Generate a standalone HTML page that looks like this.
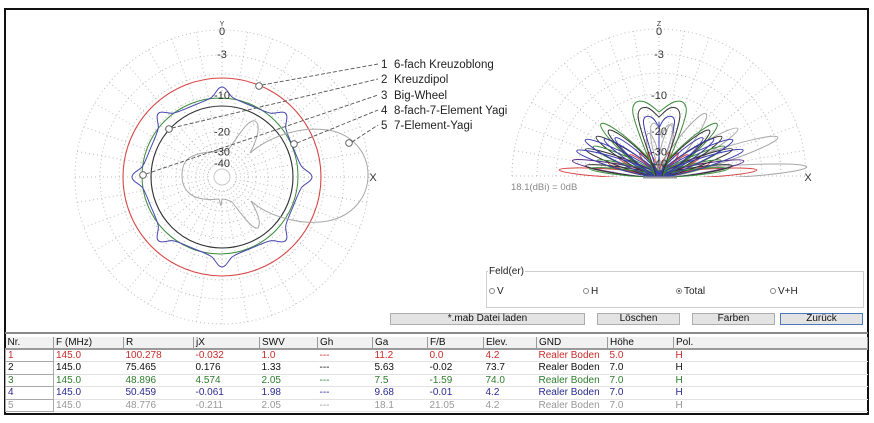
<!DOCTYPE html>
<html><head><meta charset="utf-8">
<style>
*{margin:0;padding:0;box-sizing:border-box}
body{width:874px;height:423px;background:#fff;position:relative;overflow:hidden;font-family:"Liberation Sans",Arial,sans-serif}
.frame{position:absolute;left:4px;top:8px;width:865px;height:407px;border:2px solid #111}
svg{position:absolute;left:0;top:0}
.grp{position:absolute;left:486px;top:271px;width:378px;height:37px;border:1px solid #cfcfcf}
.lg{position:absolute;left:488px;top:266px;font-size:10px;background:#fff;padding:0 1px;color:#222;line-height:11px}
.rad{position:absolute;top:287px;font-size:10px;line-height:10px;color:#222;white-space:nowrap}
.rad i{display:inline-block;width:6px;height:6px;border:1px solid #888;border-radius:50%;margin-right:2px;position:relative;top:0px}
.rad i.on:after{content:"";position:absolute;left:1px;top:1px;width:2px;height:2px;background:#333;border-radius:50%}
.btn{position:absolute;top:313px;height:12px;background:#e3e3e3;border:1px solid #adadad;font-size:10px;line-height:10px;text-align:center;color:#111}
.hl{position:absolute;left:5px;width:863px;height:2px;background:#8a8a8a}
table{position:absolute;left:5px;top:337px;border-collapse:collapse;table-layout:fixed;width:862px;font-size:10px}
td{height:12.5px;line-height:11px;padding:0 0 0 2px;white-space:nowrap;overflow:hidden;border-bottom:1px solid #e2e2e2}
tr.h td{height:12px;background:#f1f1f1;border-right:1px solid #9a9a9a;border-bottom:2px solid #9a9a9a;color:#111}
td.n{border:1px solid #a8a8a8}
tr.r1 td{color:#cc2a2a}
tr.r2 td{color:#111}
tr.r3 td{color:#2e7d2e}
tr.r4 td{color:#2a2a90}
tr.r5 td{color:#999}
</style></head><body>
<div class="frame"></div>
<svg width="874" height="423" viewBox="0 0 874 423" font-family="Liberation Sans, Arial, sans-serif">
<defs><clipPath id="up"><rect x="500" y="0" width="330" height="177"/></clipPath></defs>
<!-- LEFT GRID -->
<g transform="translate(222,177)" fill="none" stroke="#bdbdbd" stroke-dasharray="1 3">
<circle r="147"/><circle r="122"/><circle r="103"/><circle r="82"/><circle r="61"/><circle r="46"/><circle r="34"/><circle r="26"/><circle r="14"/>
<g>
<line x1="14" x2="147"/><line x1="14" x2="147" transform="rotate(10)"/><line x1="14" x2="147" transform="rotate(20)"/><line x1="14" x2="147" transform="rotate(30)"/><line x1="14" x2="147" transform="rotate(40)"/><line x1="14" x2="147" transform="rotate(50)"/><line x1="14" x2="147" transform="rotate(60)"/><line x1="14" x2="147" transform="rotate(70)"/><line x1="14" x2="147" transform="rotate(80)"/><line x1="14" x2="147" transform="rotate(90)"/><line x1="14" x2="147" transform="rotate(100)"/><line x1="14" x2="147" transform="rotate(110)"/><line x1="14" x2="147" transform="rotate(120)"/><line x1="14" x2="147" transform="rotate(130)"/><line x1="14" x2="147" transform="rotate(140)"/><line x1="14" x2="147" transform="rotate(150)"/><line x1="14" x2="147" transform="rotate(160)"/><line x1="14" x2="147" transform="rotate(170)"/><line x1="14" x2="147" transform="rotate(180)"/><line x1="14" x2="147" transform="rotate(190)"/><line x1="14" x2="147" transform="rotate(200)"/><line x1="14" x2="147" transform="rotate(210)"/><line x1="14" x2="147" transform="rotate(220)"/><line x1="14" x2="147" transform="rotate(230)"/><line x1="14" x2="147" transform="rotate(240)"/><line x1="14" x2="147" transform="rotate(250)"/><line x1="14" x2="147" transform="rotate(260)"/><line x1="14" x2="147" transform="rotate(270)"/><line x1="14" x2="147" transform="rotate(280)"/><line x1="14" x2="147" transform="rotate(290)"/><line x1="14" x2="147" transform="rotate(300)"/><line x1="14" x2="147" transform="rotate(310)"/><line x1="14" x2="147" transform="rotate(320)"/><line x1="14" x2="147" transform="rotate(330)"/><line x1="14" x2="147" transform="rotate(340)"/><line x1="14" x2="147" transform="rotate(350)"/>
</g>
</g>
<circle cx="222" cy="177" r="8" fill="none" stroke="#c8c8c8"/>
<!-- LEFT SERIES -->
<circle cx="222" cy="177" r="99" fill="none" stroke="#d94545" stroke-width="1.1"/>
<circle cx="220" cy="176" r="78" fill="none" stroke="#3a8a3a" stroke-width="1"/>
<circle cx="222" cy="177" r="71" fill="none" stroke="#303030" stroke-width="1.1"/>
<g transform="translate(222,177)" fill="none" stroke="#4848b0" stroke-width="1">
<path d="M-29.47,-71.14 C-20,-75 -14,-77 -10,-80 C-6,-84 -4,-90 0,-90 C4,-90 6,-84 10,-80 C14,-77 20,-75 29.47,-71.14"/>
<path d="M-29.47,-71.14 C-20,-75 -14,-77 -10,-80 C-6,-84 -4,-90 0,-90 C4,-90 6,-84 10,-80 C14,-77 20,-75 29.47,-71.14" transform="rotate(45)"/>
<path d="M-29.47,-71.14 C-20,-75 -14,-77 -10,-80 C-6,-84 -4,-90 0,-90 C4,-90 6,-84 10,-80 C14,-77 20,-75 29.47,-71.14" transform="rotate(90)"/>
<path d="M-29.47,-71.14 C-20,-75 -14,-77 -10,-80 C-6,-84 -4,-90 0,-90 C4,-90 6,-84 10,-80 C14,-77 20,-75 29.47,-71.14" transform="rotate(135)"/>
<path d="M-29.47,-71.14 C-20,-75 -14,-77 -10,-80 C-6,-84 -4,-90 0,-90 C4,-90 6,-84 10,-80 C14,-77 20,-75 29.47,-71.14" transform="rotate(180)"/>
<path d="M-29.47,-71.14 C-20,-75 -14,-77 -10,-80 C-6,-84 -4,-90 0,-90 C4,-90 6,-84 10,-80 C14,-77 20,-75 29.47,-71.14" transform="rotate(225)"/>
<path d="M-29.47,-71.14 C-20,-75 -14,-77 -10,-80 C-6,-84 -4,-90 0,-90 C4,-90 6,-84 10,-80 C14,-77 20,-75 29.47,-71.14" transform="rotate(270)"/>
<path d="M-29.47,-71.14 C-20,-75 -14,-77 -10,-80 C-6,-84 -4,-90 0,-90 C4,-90 6,-84 10,-80 C14,-77 20,-75 29.47,-71.14" transform="rotate(315)"/>
</g>
<path fill="none" stroke="#a8a8a8" stroke-width="1" d="M250,153 C270,136 300,126 328,130 C352,134 368,152 368,175 C368,198 352,216 328,221 C300,226 268,216 251,201 C256,210 262,222 258,228 C252,230 240,212 232,202 C228,200 224,199 222,199 L221,206 L219,199 C210,200 195,200 188,192 C180,184 180,166 188,159 C196,152 212,152 228,150 C236,140 248,118 255,121 C262,125 256,142 250,153 Z"/>
<!-- markers & leaders -->
<g fill="none" stroke="#555" stroke-width="0.9" stroke-dasharray="4 2">
<line x1="262" y1="85" x2="378" y2="64"/>
<line x1="172" y1="128" x2="378" y2="79"/>
<line x1="146" y1="174" x2="378" y2="95"/>
<line x1="297" y1="143" x2="378" y2="110"/>
<line x1="352" y1="142" x2="378" y2="125"/>
</g>
<g fill="#fff" stroke="#555" stroke-width="0.9">
<circle cx="259" cy="86" r="3.3"/><circle cx="169" cy="129" r="3.3"/><circle cx="143" cy="175" r="3.3"/><circle cx="294" cy="144" r="3.3"/><circle cx="349" cy="143" r="3.3"/>
</g>
<g font-size="11.5" fill="#222">
<text x="381" y="68">1</text><text x="394" y="68">6-fach Kreuzoblong</text>
<text x="381" y="83">2</text><text x="394" y="83">Kreuzdipol</text>
<text x="381" y="99">3</text><text x="394" y="99">Big-Wheel</text>
<text x="381" y="114">4</text><text x="394" y="114">8-fach-7-Element Yagi</text>
<text x="381" y="129">5</text><text x="394" y="129">7-Element-Yagi</text>
</g>
<g font-size="11" fill="#333" text-anchor="middle">
<text x="222" y="26" font-size="7">Y</text>
<text x="222" y="35">0</text>
<text x="222" y="58">-3</text>
<text x="222" y="99">-10</text>
<text x="222" y="135.5">-20</text>
<text x="222" y="155.5">-30</text>
<text x="222" y="167">-40</text>
<text x="373" y="181">X</text>
</g>
<!-- RIGHT GRID -->
<g transform="translate(659,176)" fill="none" stroke="#bdbdbd" stroke-dasharray="1 3">
<path d="M-147 0A147 147 0 0 1 147 0"/><path d="M-122 0A122 122 0 0 1 122 0"/><path d="M-103 0A103 103 0 0 1 103 0"/><path d="M-82 0A82 82 0 0 1 82 0"/><path d="M-61 0A61 61 0 0 1 61 0"/><path d="M-46 0A46 46 0 0 1 46 0"/><path d="M-34 0A34 34 0 0 1 34 0"/><path d="M-26 0A26 26 0 0 1 26 0"/><path d="M-14 0A14 14 0 0 1 14 0"/>
<line x1="-147" x2="147"/>
<line x1="14" x2="147" transform="rotate(-10)"/><line x1="14" x2="147" transform="rotate(-20)"/><line x1="14" x2="147" transform="rotate(-30)"/><line x1="14" x2="147" transform="rotate(-40)"/><line x1="14" x2="147" transform="rotate(-50)"/><line x1="14" x2="147" transform="rotate(-60)"/><line x1="14" x2="147" transform="rotate(-70)"/><line x1="14" x2="147" transform="rotate(-80)"/><line x1="14" x2="147" transform="rotate(-90)"/><line x1="14" x2="147" transform="rotate(-100)"/><line x1="14" x2="147" transform="rotate(-110)"/><line x1="14" x2="147" transform="rotate(-120)"/><line x1="14" x2="147" transform="rotate(-130)"/><line x1="14" x2="147" transform="rotate(-140)"/><line x1="14" x2="147" transform="rotate(-150)"/><line x1="14" x2="147" transform="rotate(-160)"/><line x1="14" x2="147" transform="rotate(-170)"/>
</g>
<!-- RIGHT LOBES -->
<g clip-path="url(#up)">
<g transform="translate(659,176) scale(1,-1)" fill="none" stroke-width="1">
<g stroke="#a8a8a8">
<ellipse cx="74" rx="74" ry="6" transform="rotate(3.5)"/>
<ellipse cx="62.5" rx="62.5" ry="7" transform="rotate(18)"/>
<ellipse cx="46" rx="46" ry="6" transform="rotate(31)"/>
<ellipse cx="39" rx="39" ry="7" transform="rotate(53)"/>
<ellipse cx="27" rx="27" ry="5" transform="rotate(76)"/>
<ellipse cx="22" rx="22" ry="5" transform="rotate(104)"/>
</g>
<g stroke="#d94545">
<ellipse cx="50" rx="50" ry="4" transform="rotate(176.5)"/>
<ellipse cx="49" rx="49" ry="4" transform="rotate(3.5)"/>
<ellipse cx="26" rx="26" ry="2.5" transform="rotate(166)"/>
<ellipse cx="22" rx="22" ry="2.5" transform="rotate(156)"/>
<ellipse cx="18" rx="18" ry="2.5" transform="rotate(144)"/>
<ellipse cx="15" rx="15" ry="2.5" transform="rotate(130)"/>
<ellipse cx="13" rx="13" ry="2.5" transform="rotate(114)"/>
<ellipse cx="26" rx="26" ry="2.5" transform="rotate(14)"/>
<ellipse cx="22" rx="22" ry="2.5" transform="rotate(24)"/>
<ellipse cx="18" rx="18" ry="2.5" transform="rotate(36)"/>
<ellipse cx="15" rx="15" ry="2.5" transform="rotate(50)"/>
<ellipse cx="13" rx="13" ry="2.5" transform="rotate(66)"/>
</g>
<g stroke="#5a2a8a">
<ellipse cx="44" rx="44" ry="4.5" transform="rotate(170)"/>
<ellipse cx="43" rx="43" ry="4.5" transform="rotate(10)"/>
</g>
<g stroke="#303030">
<ellipse cx="37" rx="37" ry="3.5" transform="rotate(172)"/>
<ellipse cx="39" rx="39" ry="4.5" transform="rotate(160)"/>
<ellipse cx="37" rx="37" ry="5.5" transform="rotate(148)"/>
<ellipse cx="34" rx="34" ry="6" transform="rotate(138)"/>
<ellipse cx="37" rx="37" ry="3.5" transform="rotate(8)"/>
<ellipse cx="39" rx="39" ry="4.5" transform="rotate(20)"/>
<ellipse cx="37" rx="37" ry="5.5" transform="rotate(32)"/>
<ellipse cx="34" rx="34" ry="6" transform="rotate(42)"/>
</g>
<g stroke="#3a8a3a">
<ellipse cx="35" rx="35" ry="3" transform="rotate(174)"/>
<ellipse cx="32" rx="32" ry="3.5" transform="rotate(166)"/>
<ellipse cx="36" rx="36" ry="4.5" transform="rotate(156)"/>
<ellipse cx="39" rx="39" ry="7" transform="rotate(138)"/>
<ellipse cx="35" rx="35" ry="3" transform="rotate(6)"/>
<ellipse cx="32" rx="32" ry="3.5" transform="rotate(14)"/>
<ellipse cx="36" rx="36" ry="4.5" transform="rotate(24)"/>
<ellipse cx="39" rx="39" ry="7" transform="rotate(42)"/>
</g>
<g stroke="#3a3ab0">
<ellipse cx="43" rx="43" ry="5" transform="rotate(163)"/>
<ellipse cx="41" rx="41" ry="5.5" transform="rotate(154)"/>
<ellipse cx="33" rx="33" ry="4.5" transform="rotate(146)"/>
<ellipse cx="29" rx="29" ry="4.5" transform="rotate(139)"/>
<ellipse cx="44" rx="44" ry="5" transform="rotate(17)"/>
<ellipse cx="41" rx="41" ry="5.5" transform="rotate(26)"/>
<ellipse cx="33" rx="33" ry="4.5" transform="rotate(34)"/>
<ellipse cx="29" rx="29" ry="4.5" transform="rotate(41)"/>
</g>
</g>
<path fill="none" stroke="#3a8a3a" d="M655,176 C650,160 640,140 634,118 C630,104 636,99 645,102 C652,105 656,110 659,112 C662,110 667,105 674,102 C683,99 689,104 685,118 C679,140 668,160 663,176"/>
<path fill="none" stroke="#303030" d="M656,176 C652,160 643,140 639,122 C636,110 641,106 648,108 C653,110 656,115 659,117 C662,115 665,110 670,108 C677,106 682,110 679,122 C675,140 666,160 662,176"/>
<path fill="none" stroke="#3a3ab0" d="M657,176 C655,160 646,140 644,126 C642,117 646,115 651,117 C655,119 657,124 659,128 C661,124 663,119 667,117 C672,115 676,117 674,126 C672,140 663,160 661,176"/>
<line x1="659" y1="122" x2="659" y2="176" stroke="#3a3ab0"/>
<path fill="none" stroke="#b0b0b0" d="M659,170 C652,150 648,130 652,124 C656,120 660,130 662,138 C664,128 668,122 672,126 C674,134 668,150 661,170"/>
</g>
<line x1="643" y1="177.5" x2="677" y2="177.5" stroke="#999" stroke-width="2"/>
<g font-size="11" fill="#333" text-anchor="middle">
<text x="659" y="26" font-size="7">Z</text>
<text x="659" y="35">0</text>
<text x="659" y="58">-3</text>
<text x="659" y="99">-10</text>
<text x="659" y="135">-20</text>
<text x="659" y="155.5">-30</text>
<text x="659" y="167">-40</text>
<text x="808" y="181">X</text>
</g>
<text x="511" y="190" font-size="9.5" fill="#888">18.1(dBi) = 0dB</text>
</svg>

<div class="grp"></div>
<div class="lg">Feld(er)</div>
<div class="rad" style="left:489px"><i></i>V</div>
<div class="rad" style="left:583px"><i></i>H</div>
<div class="rad" style="left:676px"><i class="on"></i>Total</div>
<div class="rad" style="left:770px"><i></i>V+H</div>

<div class="btn" style="left:390px;width:195px">*.mab Datei laden</div>
<div class="btn" style="left:597px;width:83px">Löschen</div>
<div class="btn" style="left:692px;width:83px">Farben</div>
<div class="btn" style="left:780px;width:83px;border-color:#4a7ab8">Zurück</div>

<div class="hl" style="top:332px"></div>

<table>
<colgroup><col style="width:48px"><col style="width:70px"><col style="width:70px"><col style="width:66px"><col style="width:58px"><col style="width:55px"><col style="width:55px"><col style="width:56px"><col style="width:53px"><col style="width:71px"><col style="width:66px"><col style="width:194px"></colgroup>
<tr class="h"><td>Nr.</td><td>F (MHz)</td><td>R</td><td>jX</td><td>SWV</td><td>Gh</td><td>Ga</td><td>F/B</td><td>Elev.</td><td>GND</td><td>Höhe</td><td>Pol.</td></tr>
<tr class="r1"><td class="n">1</td><td>145.0</td><td>100.278</td><td>-0.032</td><td>1.0</td><td>---</td><td>11.2</td><td>0.0</td><td>4.2</td><td>Realer Boden</td><td>5.0</td><td>H</td></tr>
<tr class="r2"><td class="n">2</td><td>145.0</td><td>75.465</td><td>0.176</td><td>1.33</td><td>---</td><td>5.63</td><td>-0.02</td><td>73.7</td><td>Realer Boden</td><td>7.0</td><td>H</td></tr>
<tr class="r3"><td class="n">3</td><td>145.0</td><td>48.896</td><td>4.574</td><td>2.05</td><td>---</td><td>7.5</td><td>-1.59</td><td>74.0</td><td>Realer Boden</td><td>7.0</td><td>H</td></tr>
<tr class="r4"><td class="n">4</td><td>145.0</td><td>50.459</td><td>-0.061</td><td>1.98</td><td>---</td><td>9.68</td><td>-0.01</td><td>4.2</td><td>Realer Boden</td><td>7.0</td><td>H</td></tr>
<tr class="r5"><td class="n">5</td><td>145.0</td><td>48.776</td><td>-0.211</td><td>2.05</td><td>---</td><td>18.1</td><td>21.05</td><td>4.2</td><td>Realer Boden</td><td>7.0</td><td>H</td></tr>
</table>
</body></html>
